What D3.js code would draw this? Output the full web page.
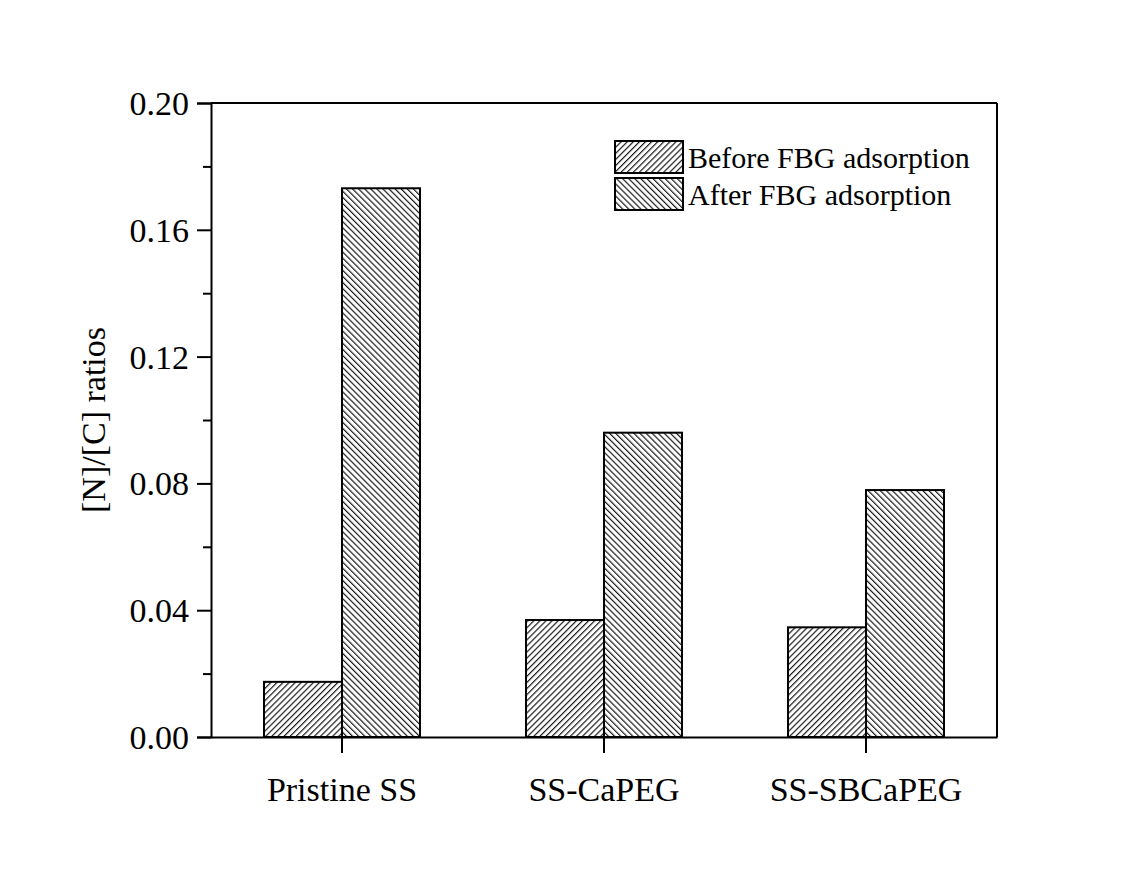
<!DOCTYPE html>
<html>
<head>
<meta charset="utf-8">
<script src="https://cdn.jsdelivr.net/npm/d3@7"></script>
<style>
  body { margin: 0; background: #fff; }
  svg text { font-family: "Liberation Serif", "Times New Roman", serif; fill: #000; }
</style>
</head>
<body>
<div id="chart"></div>
<script>
// datos
const grupos = ['Pristine SS', 'SS-CaPEG', 'SS-SBCaPEG'];
const series = ['Before FBG adsorption', 'After FBG adsorption'];
const antes = [0.0174, 0.0369, 0.0346];
const despues = [0.1731, 0.0960, 0.0779];
const yTicks = [0.00, 0.04, 0.08, 0.12, 0.16, 0.20];
const yMinor = [0.02, 0.06, 0.10, 0.14, 0.18];

const W = 1143, H = 877;
const margin = {top: 103, right: 146, bottom: 140, left: 211};
const width = W - margin.left - margin.right,
      height = H - margin.top - margin.bottom;

const data = grupos.map((g, i) => ({grupo: g, valores: [antes[i], despues[i]]}));

const svg = d3.select('#chart').append('svg')
    .attr('width', W)
    .attr('height', H);

// patrones de rayado
const defs = svg.append('defs');
function hatch(id, angle) {
    const p = defs.append('pattern')
        .attr('id', id)
        .attr('patternUnits', 'userSpaceOnUse')
        .attr('width', 4.3)
        .attr('height', 10)
        .attr('patternTransform', 'rotate(' + angle + ')');
    p.append('rect').attr('width', 4.3).attr('height', 10).attr('fill', '#fff');
    p.append('line')
        .attr('x1', 0.6).attr('y1', 0).attr('x2', 0.6).attr('y2', 10)
        .attr('stroke', '#1a1a1a').attr('stroke-width', 1.2);
}
hatch('hatchBefore', 45);
hatch('hatchAfter', -45);
const fills = ['url(#hatchBefore)', 'url(#hatchAfter)'];

const g = svg.append('g')
    .attr('transform', 'translate(' + margin.left + ',' + margin.top + ')');

const x = d3.scaleBand().domain(grupos).range([0, width]).padding(0);
const xSub = d3.scaleBand().domain(series)
    .range([x.bandwidth() / 2 - 78, x.bandwidth() / 2 + 78]);
const y = d3.scaleLinear().domain([0, 0.2]).range([height, 0]);

// barras
g.append('g').selectAll('g')
    .data(data)
    .enter().append('g')
    .attr('transform', d => 'translate(' + x(d.grupo) + ',0)')
    .selectAll('rect')
    .data(d => series.map((s, j) => ({key: s, value: d.valores[j], j: j})))
    .enter().append('rect')
    .attr('x', d => xSub(d.key))
    .attr('width', xSub.bandwidth())
    .attr('y', d => y(d.value))
    .attr('height', d => y(0) - y(d.value))
    .attr('fill', d => fills[d.j])
    .attr('stroke', '#000')
    .attr('stroke-width', 2);

// ejes
const yAxis = g.append('g')
    .call(d3.axisLeft(y).tickValues(yTicks).tickFormat(d3.format('.2f')).tickSizeOuter(0).tickSize(14).tickPadding(8));
yAxis.select('.domain').attr('stroke-width', 2);
yAxis.selectAll('.tick line').attr('stroke-width', 2);
yAxis.selectAll('text').attr('font-size', 34).attr('dy', '0.34em');

const yMinorAxis = g.append('g')
    .call(d3.axisLeft(y).tickValues(yMinor).tickFormat('').tickSize(8).tickSizeOuter(0));
yMinorAxis.select('.domain').remove();
yMinorAxis.selectAll('.tick line').attr('stroke-width', 2);

const xAxis = g.append('g')
    .attr('transform', 'translate(0,' + height + ')')
    .call(d3.axisBottom(x).tickSize(16).tickSizeOuter(0).tickPadding(24));
xAxis.select('.domain').attr('stroke-width', 2);
xAxis.selectAll('.tick line').attr('stroke-width', 2);
xAxis.selectAll('text').attr('font-size', 34);

// marco superior y derecho
g.append('line').attr('x1', 0).attr('x2', width).attr('y1', 0).attr('y2', 0)
    .attr('stroke', '#000').attr('stroke-width', 2);
g.append('line').attr('x1', width).attr('x2', width).attr('y1', 0).attr('y2', height)
    .attr('stroke', '#000').attr('stroke-width', 2);

// titulo eje y
svg.append('text')
    .attr('transform', 'translate(105,' + (margin.top + height / 2) + ') rotate(-90)')
    .attr('text-anchor', 'middle')
    .attr('font-size', 34)
    .text('[N]/[C] ratios');

// leyenda
const legend = g.append('g').attr('transform', 'translate(404,38)');
series.forEach((s, i) => {
    const row = legend.append('g').attr('transform', 'translate(0,' + (i * 37) + ')');
    row.append('rect')
        .attr('width', 68).attr('height', 32)
        .attr('fill', fills[i])
        .attr('stroke', '#000').attr('stroke-width', 2);
    row.append('text')
        .attr('x', 73).attr('y', 27)
        .attr('font-size', 30)
        .text(s);
});
</script>
</body>
</html>
